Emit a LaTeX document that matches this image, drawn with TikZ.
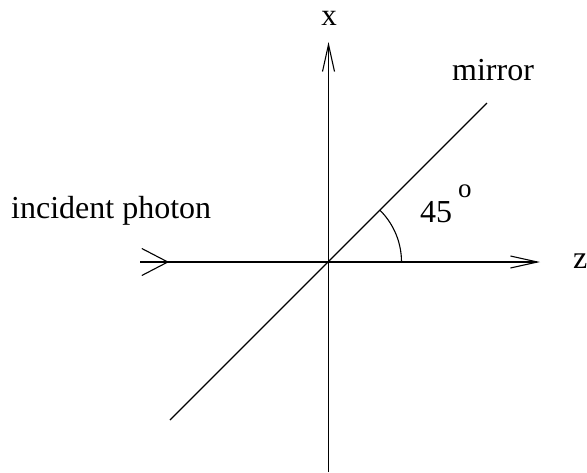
\documentclass[tikz,border=0pt]{standalone}
\usepackage{fontspec}
\setmainfont{Liberation Serif}
\usetikzlibrary{arrows.meta}
\begin{document}
\begin{tikzpicture}[x=1pt,y=-1pt,
  ln/.style={line width=1.1pt},
  lbl/.style={inner sep=0pt,anchor=base west,font=\fontsize{32}{37}\selectfont},
  ahead/.style={-{Straight Barb[length=27pt,width=12pt,line width=1.1pt]}},
  bighead/.style={-{Straight Barb[length=26pt,width=27pt,line width=1.1pt]}}]
\useasboundingbox (0,0) rectangle (587,472);
\coordinate (O) at (328.5,262);
\coordinate (xt) at (328.5,42);
\coordinate (xb) at (328.5,472);
\coordinate (zl) at (140,262);
\coordinate (zr) at (540,262);
\coordinate (ip) at (169,262);
\coordinate (ml) at (170,420);
\coordinate (mr) at (487,103);
\coordinate (a0) at (401.5,262);
\draw[ln,ahead] (xb) -- (xt);
\draw[ln,ahead] (zl) -- (zr);
\draw[ln,bighead] (zl) -- (ip);
\draw[ln] (ml) -- (mr);
\draw[ln] (a0) arc[start angle=0,end angle=-45,radius=73];
\node[lbl,anchor=base,font=\fontsize{31}{36}\selectfont] (xl) at (329,25) {x};
\node[lbl] (zlab) at (573,268) {z};
\node[lbl] (inc) at (11,218) {incident photon};
\node[lbl] (mir) at (452,80) {mirror};
\node[lbl] (ang) at (420,222) {45};
\node[lbl,font=\fontsize{27}{30}\selectfont] (deg) at (458,197) {o};
\end{tikzpicture}
\end{document}
